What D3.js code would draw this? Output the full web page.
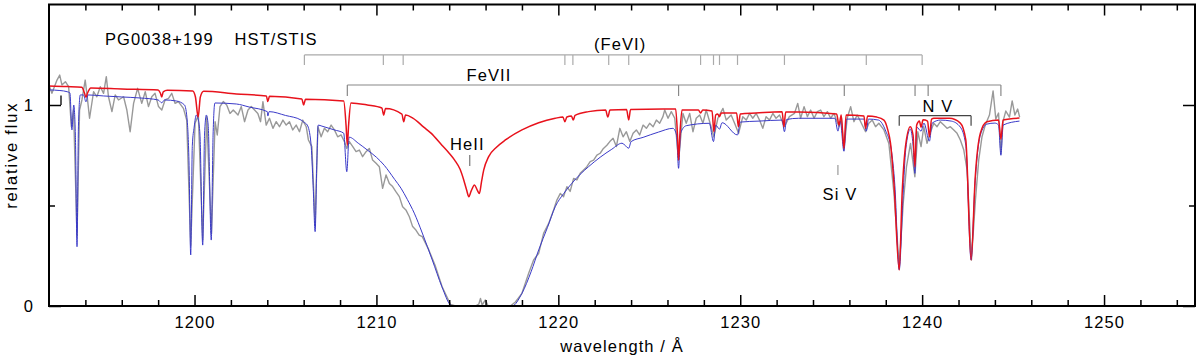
<!DOCTYPE html>
<html>
<head>
<script src="https://d3js.org/d3.v7.min.js"></script>
<style>
  body { margin: 0; background: #fff; }
  text { font-family: "Liberation Sans", Arial, sans-serif; font-size: 16.5px; letter-spacing: 1.1px; fill: #000; }
</style>
</head>
<body>
<div id="viz"></div>
<script type="text/javascript">
// observed HST/STIS spectrum (wavelength in A, relative flux)
var observed = [
  [1192.00,1.100],[1192.16,1.058],[1192.44,1.124],[1192.59,1.149],[1192.71,1.100],[1192.90,1.116],
  [1193.08,1.091],[1193.23,0.892],[1193.35,0.975],[1193.54,0.350],[1193.68,0.975],[1193.81,1.025],
  [1193.99,1.124],[1194.08,1.058],[1194.23,0.934],[1194.45,1.066],[1194.63,1.041],[1194.82,1.091],
  [1195.00,1.058],[1195.15,1.141],[1195.27,1.041],[1195.46,0.967],[1195.64,1.050],[1195.82,1.025],
  [1196.10,1.041],[1196.28,0.975],[1196.46,0.867],[1196.65,1.008],[1196.87,1.083],[1197.10,1.008],
  [1197.29,1.066],[1197.47,0.992],[1197.65,1.041],[1197.83,1.058],[1198.02,0.992],[1198.20,0.975],
  [1198.38,1.025],[1198.57,1.033],[1198.75,1.058],[1198.93,1.008],[1199.11,1.017],[1199.39,0.983],
  [1199.57,0.925],[1199.79,0.300],[1200.03,0.909],[1200.21,0.950],[1200.45,0.330],[1200.67,0.942],
  [1200.93,0.360],[1201.13,0.917],[1201.25,0.851],[1201.40,0.992],[1201.58,1.017],[1201.77,1.000],
  [1201.95,0.958],[1202.13,0.975],[1202.39,0.950],[1202.57,0.992],[1202.75,0.917],[1202.94,0.975],
  [1203.12,0.992],[1203.30,0.975],[1203.48,0.958],[1203.63,0.917],[1203.76,1.017],[1203.94,0.900],
  [1204.12,0.934],[1204.31,0.884],[1204.49,0.917],[1204.67,0.892],[1204.86,0.925],[1205.04,0.900],
  [1205.22,0.917],[1205.40,0.876],[1205.59,0.900],[1205.77,0.867],[1205.95,0.925],[1206.14,0.892],
  [1206.26,0.826],[1206.45,0.793],[1206.63,0.400],[1206.78,0.892],[1206.96,0.842],[1207.14,0.884],
  [1207.32,0.867],[1207.51,0.900],[1207.69,0.876],[1207.87,0.842],[1208.06,0.851],[1208.24,0.818],
  [1208.37,0.784],[1208.51,0.818],[1208.70,0.793],[1208.88,0.768],[1209.06,0.776],[1209.24,0.743],
  [1209.43,0.768],[1209.61,0.784],[1209.79,0.726],[1209.98,0.710],[1210.16,0.693],[1210.34,0.585],
  [1210.53,0.652],[1210.71,0.610],[1210.89,0.594],[1211.07,0.569],[1211.26,0.544],[1211.44,0.494],
  [1211.62,0.478],[1211.81,0.444],[1211.99,0.395],[1212.17,0.378],[1212.35,0.353],[1212.52,0.345],
  [1212.88,0.279],[1213.25,0.196],[1213.61,0.096],[1214.07,0.008],[1214.35,0.000],[1215.44,0.000],
  [1215.63,0.010],[1215.72,0.038],[1215.81,0.005],[1215.99,0.030],[1216.14,0.000],[1217.36,0.000],
  [1217.64,0.020],[1218.00,0.063],[1218.37,0.163],[1218.64,0.229],[1218.92,0.262],[1219.19,0.361],
  [1219.47,0.411],[1219.74,0.478],[1219.92,0.527],[1220.11,0.560],[1220.29,0.544],[1220.47,0.594],
  [1220.65,0.570],[1220.84,0.635],[1221.02,0.627],[1221.20,0.660],[1221.39,0.677],[1221.57,0.693],
  [1221.75,0.718],[1221.94,0.726],[1222.12,0.751],[1222.30,0.760],[1222.48,0.784],[1222.67,0.800],
  [1222.83,0.818],[1223.01,0.834],[1223.19,0.793],[1223.38,0.884],[1223.56,0.842],[1223.74,0.867],
  [1223.93,0.818],[1224.11,0.859],[1224.29,0.876],[1224.47,0.851],[1224.66,0.900],[1224.84,0.884],
  [1225.02,0.909],[1225.21,0.892],[1225.39,0.925],[1225.57,0.909],[1225.75,0.942],[1225.85,0.975],
  [1226.03,0.934],[1226.21,0.967],[1226.40,0.934],[1226.61,0.726],[1226.85,0.958],[1227.03,0.909],
  [1227.22,0.958],[1227.40,0.867],[1227.58,0.934],[1227.77,0.950],[1227.95,0.909],[1228.13,0.975],
  [1228.32,0.917],[1228.55,0.842],[1228.77,0.934],[1229.05,0.983],[1229.23,0.925],[1229.50,0.950],
  [1229.69,0.909],[1229.91,0.859],[1230.14,0.942],[1230.33,0.925],[1230.51,0.958],[1230.69,0.934],
  [1230.88,0.958],[1231.06,0.925],[1231.24,0.884],[1231.42,0.942],[1231.61,0.925],[1231.79,0.958],
  [1231.97,0.934],[1232.16,0.950],[1232.43,0.892],[1232.70,0.942],[1232.98,0.958],[1233.16,1.008],
  [1233.32,0.934],[1233.51,0.992],[1233.69,0.942],[1233.87,0.975],[1234.06,0.934],[1234.24,0.967],
  [1234.42,0.975],[1234.60,0.942],[1234.79,0.967],[1234.97,0.934],[1235.15,0.958],[1235.43,0.892],
  [1235.56,0.934],[1235.70,0.776],[1235.88,0.934],[1236.07,0.992],[1236.25,0.917],[1236.43,0.950],
  [1236.62,0.917],[1236.89,0.867],[1237.07,0.909],[1237.26,0.925],[1237.44,0.892],[1237.62,0.909],
  [1237.90,0.876],[1238.17,0.809],[1238.45,0.561],[1238.74,0.196],[1238.96,0.511],[1239.14,0.693],
  [1239.36,0.809],[1239.60,0.643],[1239.76,0.867],[1239.94,0.793],[1240.09,0.892],[1240.27,0.809],
  [1240.40,0.851],[1240.64,0.909],[1240.82,0.892],[1241.00,0.917],[1241.19,0.900],[1241.37,0.884],
  [1241.55,0.892],[1241.74,0.876],[1241.92,0.859],[1242.10,0.826],[1242.29,0.776],[1242.47,0.677],
  [1242.71,0.229],[1242.93,0.527],[1243.11,0.726],[1243.29,0.842],[1243.47,0.900],[1243.70,0.950],
  [1243.90,1.070],[1244.05,0.930],[1244.20,0.960],[1244.33,0.760],[1244.45,0.920],[1244.60,0.970],
  [1244.80,0.940],[1244.95,1.020],[1245.10,0.950],[1245.25,0.980],[1245.36,0.940]
];

// model with interstellar absorption (blue)
var modelIsm = [
  [1192.00,1.075],[1192.60,1.072],[1193.00,1.066],[1193.15,1.060],[1193.26,0.876],[1193.36,1.000],
  [1193.45,0.850],[1193.54,0.295],[1193.62,0.900],[1193.72,1.050],[1193.90,1.050],[1194.03,1.016],
  [1194.15,1.050],[1195.00,1.045],[1196.00,1.040],[1197.00,1.035],[1198.00,1.025],[1198.20,1.011],
  [1198.35,1.025],[1199.00,1.020],[1199.45,1.000],[1199.60,0.920],[1199.70,0.700],[1199.79,0.254],
  [1199.88,0.800],[1199.98,0.890],[1200.10,0.950],[1200.20,0.930],[1200.30,0.850],[1200.45,0.303],
  [1200.55,0.850],[1200.65,0.950],[1200.75,0.900],[1200.92,0.328],[1201.02,0.850],[1201.12,1.010],
  [1202.30,1.005],[1203.00,0.990],[1204.00,0.967],[1204.03,0.945],[1204.10,0.967],[1205.00,0.948],
  [1205.86,0.925],[1206.00,0.915],[1206.20,0.900],[1206.40,0.810],[1206.52,0.600],[1206.63,0.370],
  [1206.72,0.700],[1206.80,0.900],[1207.00,0.895],[1207.69,0.876],[1208.20,0.860],[1208.37,0.668],
  [1208.50,0.840],[1209.00,0.810],[1209.50,0.776],[1210.00,0.740],[1210.43,0.700],[1211.00,0.630],
  [1211.35,0.586],[1211.70,0.530],[1212.08,0.462],[1212.52,0.363],[1213.07,0.229],[1213.60,0.096],
  [1214.07,0.005],[1214.20,0.000],[1217.45,0.000],[1218.00,0.063],[1218.50,0.170],[1218.92,0.279],
  [1219.40,0.390],[1219.83,0.494],[1220.30,0.560],[1220.74,0.610],[1221.20,0.655],[1221.66,0.693],
  [1222.30,0.740],[1222.94,0.780],[1223.50,0.810],[1223.87,0.785],[1224.00,0.818],[1224.66,0.839],
  [1225.50,0.865],[1226.30,0.884],[1226.50,0.850],[1226.61,0.685],[1226.72,0.860],[1227.03,0.897],
  [1228.30,0.909],[1228.53,0.818],[1228.65,0.900],[1228.86,0.880],[1229.00,0.912],[1229.85,0.851],
  [1230.00,0.915],[1231.05,0.920],[1232.30,0.925],[1232.43,0.867],[1232.55,0.928],[1233.20,0.934],
  [1235.20,0.934],[1235.37,0.870],[1235.50,0.920],[1235.70,0.770],[1235.85,0.930],[1236.80,0.930],
  [1236.93,0.870],[1237.05,0.930],[1237.60,0.925],[1238.00,0.870],[1238.30,0.780],[1238.50,0.600],
  [1238.74,0.180],[1238.95,0.550],[1239.10,0.780],[1239.35,0.880],[1239.50,0.800],[1239.60,0.660],
  [1239.70,0.890],[1239.94,0.870],[1240.10,0.910],[1240.40,0.820],[1240.55,0.910],[1241.00,0.925],
  [1241.60,0.920],[1242.10,0.890],[1242.40,0.800],[1242.69,0.230],[1242.90,0.600],[1243.20,0.850],
  [1243.56,0.905],[1244.00,0.910],[1244.20,0.900],[1244.33,0.750],[1244.45,0.900],[1245.35,0.920]
];

// photospheric model only (red)
var modelPhot = [
  [1192.00,1.095],[1193.00,1.092],[1193.80,1.088],[1193.95,1.060],[1194.03,1.038],[1194.12,1.060],
  [1194.30,1.085],[1196.00,1.080],[1198.00,1.075],[1198.12,1.060],[1198.20,1.040],[1198.28,1.065],
  [1198.50,1.073],[1199.90,1.070],[1200.05,1.040],[1200.20,0.940],[1200.32,1.040],[1200.50,1.068],
  [1202.30,1.055],[1203.95,1.045],[1204.03,1.017],[1204.12,1.043],[1205.90,1.030],[1206.00,1.000],
  [1206.10,1.028],[1208.20,1.020],[1208.33,0.900],[1208.40,0.800],[1208.47,0.900],[1208.60,1.010],
  [1209.50,1.000],[1210.30,0.985],[1210.40,0.950],[1210.50,0.983],[1211.40,0.955],[1211.50,0.917],
  [1211.60,0.950],[1212.00,0.935],[1212.60,0.890],[1213.00,0.860],[1213.60,0.800],[1214.00,0.760],
  [1214.30,0.726],[1214.60,0.680],[1214.80,0.627],[1214.95,0.580],[1215.08,0.544],[1215.20,0.570],
  [1215.39,0.602],[1215.55,0.575],[1215.66,0.560],[1215.78,0.620],[1215.90,0.677],[1216.17,0.743],
  [1216.60,0.790],[1217.09,0.826],[1218.00,0.876],[1218.92,0.912],[1219.83,0.934],[1220.25,0.940],
  [1220.36,0.917],[1220.47,0.940],[1220.72,0.945],[1220.82,0.925],[1220.92,0.948],[1221.66,0.967],
  [1222.60,0.975],[1222.72,0.940],[1222.84,0.975],[1223.75,0.978],[1223.87,0.925],[1223.97,0.978],
  [1226.45,0.980],[1226.55,0.850],[1226.61,0.726],[1226.68,0.850],[1226.80,0.975],[1227.70,0.975],
  [1227.82,0.960],[1227.94,0.975],[1228.45,0.970],[1228.55,0.867],[1228.65,0.950],[1228.76,0.955],
  [1228.86,0.942],[1228.96,0.960],[1229.80,0.960],[1229.90,0.892],[1230.00,0.955],[1230.87,0.960],
  [1232.30,0.967],[1232.40,0.892],[1232.50,0.965],[1233.20,0.965],[1235.30,0.955],[1235.43,0.900],
  [1235.55,0.950],[1235.70,0.785],[1235.82,0.950],[1236.80,0.945],[1236.89,0.884],[1237.00,0.945],
  [1237.50,0.940],[1237.90,0.925],[1238.10,0.880],[1238.26,0.810],[1238.45,0.610],[1238.74,0.179],
  [1238.90,0.560],[1239.08,0.790],[1239.35,0.892],[1239.50,0.850],[1239.60,0.693],[1239.70,0.900],
  [1239.85,0.920],[1239.94,0.890],[1240.05,0.926],[1240.30,0.920],[1240.40,0.842],[1240.52,0.930],
  [1240.65,0.934],[1241.50,0.934],[1242.10,0.910],[1242.40,0.826],[1242.69,0.229],[1242.92,0.643],
  [1243.20,0.860],[1243.56,0.917],[1244.20,0.925],[1244.33,0.830],[1244.45,0.925],[1245.35,0.935]
];

// line identifications
var feVI = [1206.04, 1210.38, 1211.47, 1220.36, 1220.80, 1222.77, 1223.87, 1227.82, 1228.53, 1228.86, 1229.85, 1232.43, 1236.93, 1240.00];
var feVII = [1208.40, 1226.61, 1235.72, 1239.61, 1240.33, 1244.33];
var nV = [1238.74, 1242.69];
var heII = 1215.13, siV = 1235.37;

var xMajor = [1200, 1210, 1220, 1230, 1240, 1250];
var xMinor = d3.range(1194, 1256, 2).filter(function(d){ return d % 10 != 0; });
var yMajor = [0, 1];
var yMinor = [0.5];

var W = 1200, H = 357;
var margin = {top: 4.5, right: 5, bottom: 51, left: 49};

var x = d3.scaleLinear().domain([1192, 1255]).range([margin.left, W - margin.right]);
var y = d3.scaleLinear().domain([0, 1.5]).range([H - margin.bottom, margin.top]);

var svg = d3.select("#viz").append("svg")
    .attr("width", W)
    .attr("height", H);

svg.append("defs").append("clipPath").attr("id", "plotclip")
  .append("rect")
    .attr("x", x(1192)).attr("y", y(1.5))
    .attr("width", x(1255) - x(1192)).attr("height", y(0) - y(1.5));

// spectra: observed as straight segments, models smoothed
var line = d3.line().x(function(d){ return x(d[0]); }).y(function(d){ return y(d[1]); });
var smooth = d3.line().curve(d3.curveMonotoneX).x(function(d){ return x(d[0]); }).y(function(d){ return y(d[1]); });
var plot = svg.append("g").attr("clip-path", "url(#plotclip)");

plot.append("path").datum(observed)
    .attr("d", line).attr("fill", "none")
    .attr("stroke", "#999").attr("stroke-width", 1.4).attr("stroke-linejoin", "round");
plot.append("path").datum(modelIsm)
    .attr("d", smooth).attr("fill", "none")
    .attr("stroke", "#3a3ac8").attr("stroke-width", 1).attr("stroke-linejoin", "round");
plot.append("path").datum(modelPhot)
    .attr("d", smooth).attr("fill", "none")
    .attr("stroke", "#e8121c").attr("stroke-width", 1.5).attr("stroke-linejoin", "round");

// line id brackets
function bracket(lams, level, len, color) {
  var g = svg.append("g").attr("stroke", color).attr("stroke-width", 1.2).attr("fill", "none");
  g.append("line")
      .attr("x1", x(d3.min(lams))).attr("x2", x(d3.max(lams)))
      .attr("y1", y(level)).attr("y2", y(level));
  g.selectAll("line.t").data(lams).enter().append("line").attr("class", "t")
      .attr("x1", function(d){ return x(d); }).attr("x2", function(d){ return x(d); })
      .attr("y1", y(level)).attr("y2", y(level) + len);
}
bracket(feVI, 1.249, 10, "#aaa");
bracket(feVII, 1.0995, 11, "#888");
bracket(nV, 0.947, 10, "#444");

svg.append("line").attr("stroke", "#777").attr("stroke-width", 1.2)
    .attr("x1", x(heII)).attr("x2", x(heII)).attr("y1", y(0.751)).attr("y2", y(0.697));
svg.append("line").attr("stroke", "#999").attr("stroke-width", 1.2)
    .attr("x1", x(siV)).attr("x2", x(siV)).attr("y1", y(0.701)).attr("y2", y(0.652));

function label(txt, lam, flux, anchor) {
  svg.append("text").attr("x", x(lam)).attr("y", y(flux))
     .attr("text-anchor", anchor || "middle").text(txt);
}
label("PG0038+199", 1195.08, 1.299, "start");
label("HST/STIS", 1202.2, 1.299, "start");
label("(FeVI)", 1223.4, 1.274);
label("FeVII", 1216.19, 1.119);
label("HeII", 1215.0, 0.776);
label("Si V", 1235.48, 0.527);
label("N V", 1240.87, 0.965);

// axes, ticks pointing inward
function clean(g) { g.select(".domain").remove(); g.selectAll("line").attr("stroke-width", 1.5); }

svg.append("g").attr("transform", "translate(0," + y(0) + ")")
    .call(d3.axisBottom(x).tickValues(xMajor).tickSizeInner(-11).tickSizeOuter(0).tickPadding(10).tickFormat(d3.format("d")))
    .call(clean)
    .selectAll("text").style("font-size", "16.5px").attr("font-family", null);
svg.append("g").attr("transform", "translate(0," + y(0) + ")")
    .call(d3.axisBottom(x).tickValues(xMinor).tickSizeInner(-6).tickSizeOuter(0).tickFormat(""))
    .call(clean);
svg.append("g").attr("transform", "translate(0," + y(1.5) + ")")
    .call(d3.axisTop(x).tickValues(xMajor).tickSizeInner(-11).tickSizeOuter(0).tickFormat(""))
    .call(clean);
svg.append("g").attr("transform", "translate(0," + y(1.5) + ")")
    .call(d3.axisTop(x).tickValues(xMinor).tickSizeInner(-6).tickSizeOuter(0).tickFormat(""))
    .call(clean);

svg.append("g").attr("transform", "translate(" + x(1192) + ",0)")
    .call(d3.axisLeft(y).tickValues(yMajor).tickSizeInner(-12).tickSizeOuter(0).tickPadding(15).tickFormat(d3.format("d")))
    .call(clean)
    .selectAll("text").style("font-size", "16.5px").attr("font-family", null);
svg.append("g").attr("transform", "translate(" + x(1192) + ",0)")
    .call(d3.axisLeft(y).tickValues(yMinor).tickSizeInner(-6).tickSizeOuter(0).tickFormat(""))
    .call(clean);
svg.append("g").attr("transform", "translate(" + x(1255) + ",0)")
    .call(d3.axisRight(y).tickValues(yMajor).tickSizeInner(-12).tickSizeOuter(0).tickFormat(""))
    .call(clean);
svg.append("g").attr("transform", "translate(" + x(1255) + ",0)")
    .call(d3.axisRight(y).tickValues(yMinor).tickSizeInner(-6).tickSizeOuter(0).tickFormat(""))
    .call(clean);

// small hook next to the "1" tick
svg.append("path").attr("fill", "none").attr("stroke", "#000").attr("stroke-width", 1.3)
    .attr("d", "M" + (x(1192) + 12) + "," + y(1) + "V" + y(1.047));

// frame
svg.append("rect")
    .attr("x", x(1192)).attr("y", y(1.5))
    .attr("width", x(1255) - x(1192)).attr("height", y(0) - y(1.5))
    .attr("fill", "none").attr("stroke", "#000").attr("stroke-width", 2);

svg.append("text")
    .attr("x", (x(1192) + x(1255)) / 2).attr("y", 352)
    .attr("text-anchor", "middle").text("wavelength / \u00c5");
svg.append("text")
    .attr("transform", "translate(17," + (y(0) + y(1.5)) / 2 + ") rotate(-90)")
    .attr("text-anchor", "middle").style("letter-spacing", "1.8px").text("relative flux");
</script>
</body>
</html>
